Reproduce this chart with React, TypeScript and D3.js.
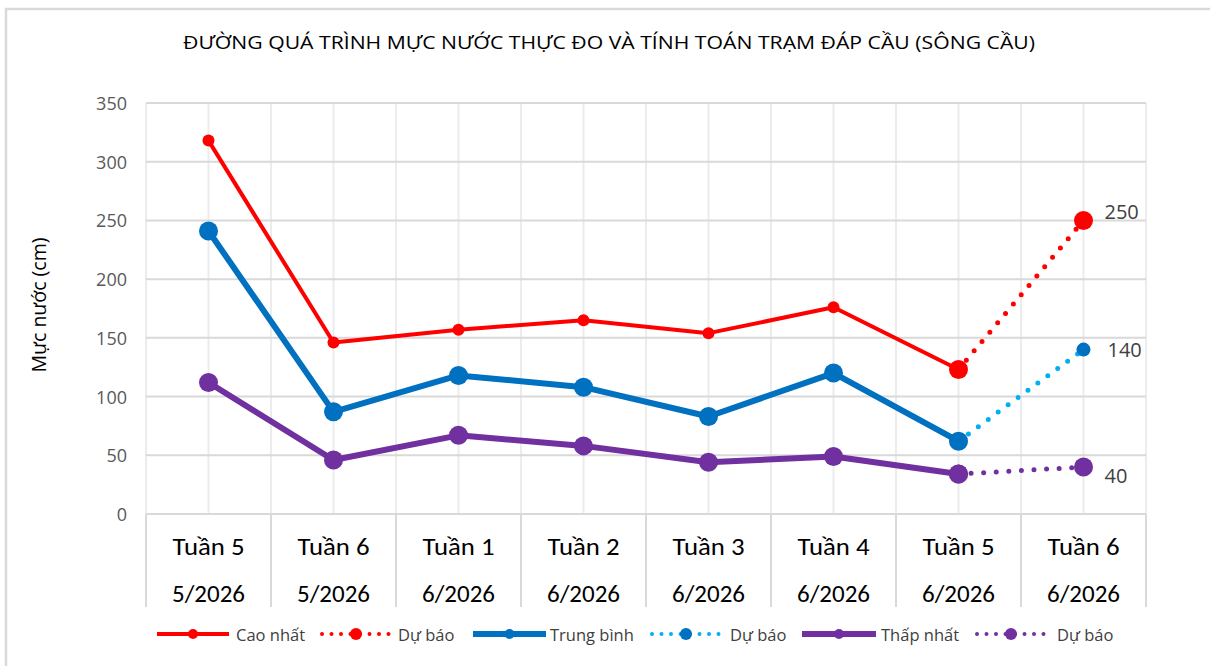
import React from "react";
import * as d3 from "d3";

const categories = ["Tuần 5", "Tuần 6", "Tuần 1", "Tuần 2", "Tuần 3", "Tuần 4", "Tuần 5", "Tuần 6"];
const months = ["5/2026", "5/2026", "6/2026", "6/2026", "6/2026", "6/2026", "6/2026", "6/2026"];
const yTicks = [0, 50, 100, 150, 200, 250, 300, 350];

// actual series (first 7 categories), forecast series (categories 7..8)
const caoNhat = [318, 146, 157, 165, 154, 176, 123];
const caoNhatDuBao = [123, 250];
const trungBinh = [241, 87, 118, 108, 83, 120, 62];
const trungBinhDuBao = [62, 140];
const thapNhat = [112, 46, 67, 58, 44, 49, 34];
const thapNhatDuBao = [34, 40];

const title = "ĐƯỜNG QUÁ TRÌNH MỰC NƯỚC THỰC ĐO VÀ TÍNH TOÁN TRẠM ĐÁP CẦU (SÔNG CẦU)";
const yTitle = "Mực nước (cm)";
const legendLabels = ["Cao nhất", "Dự báo", "Trung bình", "Dự báo", "Thấp nhất", "Dự báo"];

const RED = "#ff0000";
const BLUE = "#0070c0";
const LBLUE = "#00b0f0";
const PURPLE = "#7030a0";

export default function App() {
  const W = 1210, H = 666;
  const left = 146, right = 1146, top = 103, bottom = 514;
  const x = d3.scaleBand<number>().domain(d3.range(categories.length)).range([left, right]).padding(0);
  const cx = (i: number) => (x(i) as number) + x.bandwidth() / 2;
  const y = d3.scaleLinear().domain([0, 350]).range([bottom, top]);
  const line = d3.line<[number, number]>().x(d => d[0]).y(d => d[1]);

  const actualPts = (arr: number[]) => arr.map((v, i) => [cx(i), y(v)] as [number, number]);
  const fcPts = (arr: number[]) => arr.map((v, i) => [cx(6 + i), y(v)] as [number, number]);

  const vLines: number[] = [];
  for (let i = 0; i <= categories.length; i++) {
    vLines.push(left + i * x.bandwidth());
    if (i < categories.length) vLines.push(cx(i));
  }

  const calibri = "Carlito, Calibri, Lato, sans-serif";
  const segoe = "'Open Sans', 'Segoe UI', sans-serif";

  const series = [
    { pts: actualPts(caoNhat), color: RED, w: 4, r: 6 },
    { pts: actualPts(trungBinh), color: BLUE, w: 6, r: 9.5 },
    { pts: actualPts(thapNhat), color: PURPLE, w: 6, r: 9.5 },
  ];
  const fcSeries = [
    { pts: fcPts(caoNhatDuBao), color: RED, mk: RED, w: 5, r: 9.5, gap: 12.2 },
    { pts: fcPts(trungBinhDuBao), color: LBLUE, mk: BLUE, w: 5, r: 7, gap: 12.3 },
    { pts: fcPts(thapNhatDuBao), color: PURPLE, mk: PURPLE, w: 5, r: 9.5, gap: 12.6 },
  ];
  const labels = [
    { v: caoNhatDuBao[1], dx: 21, dy: -9 },
    { v: trungBinhDuBao[1], dx: 24, dy: 0 },
    { v: thapNhatDuBao[1], dx: 21, dy: 8 },
  ];

  const legendItems = [
    { x0: 157, x1: 229, color: RED, mk: RED, dotted: false, w: 4, tx: 236 },
    { x0: 322, x1: 390, color: RED, mk: RED, dotted: true, w: 4, tx: 398 },
    { x0: 473, x1: 546, color: BLUE, mk: BLUE, dotted: false, w: 6, tx: 550 },
    { x0: 652, x1: 720, color: LBLUE, mk: BLUE, dotted: true, w: 4, tx: 730 },
    { x0: 802, x1: 876, color: PURPLE, mk: PURPLE, dotted: false, w: 6, tx: 881 },
    { x0: 977, x1: 1045, color: PURPLE, mk: PURPLE, dotted: true, w: 4, tx: 1057 },
  ];
  const ly = 634;

  return (
    <svg width={W} height={H} style={{ position: "absolute", left: 0, top: 0, background: "#fff" }}>
      <rect x={0} y={0} width={W} height={H} fill="#fff" />
      {/* outer frame */}
      <path d={`M6,${H} V9 H${W}`} fill="none" stroke="#d9d9d9" strokeWidth={2.5} />
      <text x={609} y={42} textAnchor="middle" dominantBaseline="central" fontFamily={segoe} fontSize={17.5}
        textLength={852} lengthAdjust="spacingAndGlyphs" fill="#000">
        {title}
      </text>
      {/* vertical gridlines */}
      {vLines.map((vx, i) => (
        <line key={"v" + i} x1={vx} x2={vx} y1={top} y2={bottom} stroke="#ececec" strokeWidth={2} />
      ))}
      {/* category separators below axis */}
      {d3.range(categories.length + 1).map(i => (
        <line key={"s" + i} x1={left + i * x.bandwidth()} x2={left + i * x.bandwidth()} y1={bottom} y2={607} stroke="#d9d9d9" strokeWidth={2} />
      ))}
      {/* horizontal gridlines */}
      {yTicks.map(t => (
        <line key={"h" + t} x1={left} x2={right} y1={y(t)} y2={y(t)} stroke="#d9d9d9" strokeWidth={2} />
      ))}
      {yTicks.map(t => (
        <text key={"yt" + t} x={127} y={y(t)} textAnchor="end" dominantBaseline="central" fontFamily={segoe} fontSize={18} fill="#595959">
          {t}
        </text>
      ))}
      <text transform={`translate(38,305) rotate(-90)`} textAnchor="middle" dominantBaseline="central" fontFamily={segoe} fontSize={19.5} fill="#000">
        {yTitle}
      </text>
      {categories.map((c, i) => (
        <g key={"c" + i}>
          <text x={cx(i)} y={546} textAnchor="middle" dominantBaseline="central" fontFamily={calibri} fontSize={24}
            textLength={72} lengthAdjust="spacingAndGlyphs" fill="#000">{c}</text>
          <text x={cx(i)} y={593} textAnchor="middle" dominantBaseline="central" fontFamily={calibri} fontSize={24}
            textLength={73} lengthAdjust="spacingAndGlyphs" fill="#000">{months[i]}</text>
        </g>
      ))}
      {/* forecast lines */}
      {fcSeries.map((s, i) => (
        <path key={"fl" + i} d={line(s.pts) || ""} fill="none" stroke={s.color} strokeWidth={s.w} strokeLinecap="round" strokeDasharray={`0 ${s.gap}`} />
      ))}
      {/* actual lines */}
      {series.map((s, i) => (
        <g key={"s" + i}>
          <path d={line(s.pts) || ""} fill="none" stroke={s.color} strokeWidth={s.w} strokeLinejoin="round" />
          {s.pts.map((p, j) => (
            <circle key={j} cx={p[0]} cy={p[1]} r={s.r} fill={s.color} />
          ))}
        </g>
      ))}
      {/* forecast markers */}
      {fcSeries.map((s, i) => (
        <g key={"fm" + i}>
          {s.pts.map((p, j) => (
            (i === 1 && j === 0) ? null : <circle key={j} cx={p[0]} cy={p[1]} r={s.r} fill={s.mk} />
          ))}
        </g>
      ))}
      {/* data labels */}
      {labels.map((l, i) => (
        <text key={"l" + i} x={cx(7) + l.dx} y={y(l.v) + l.dy} dominantBaseline="central" fontFamily={segoe} fontSize={20} fill="#404040">
          {l.v}
        </text>
      ))}
      {/* legend */}
      {legendItems.map((it, i) => (
        <g key={"lg" + i}>
          <line x1={it.x0} x2={it.x1} y1={ly} y2={ly} stroke={it.color} strokeWidth={it.w}
            strokeLinecap={it.dotted ? "round" : "butt"} strokeDasharray={it.dotted ? "0 9.5" : undefined} />
          <circle cx={(it.x0 + it.x1) / 2} cy={ly} r={it.dotted ? 6 : 5} fill={it.mk} />
          <text x={it.tx} y={ly} dominantBaseline="central" fontFamily={segoe} fontSize={16.5} fill="#404040">
            {legendLabels[i]}
          </text>
        </g>
      ))}
    </svg>
  );
}
